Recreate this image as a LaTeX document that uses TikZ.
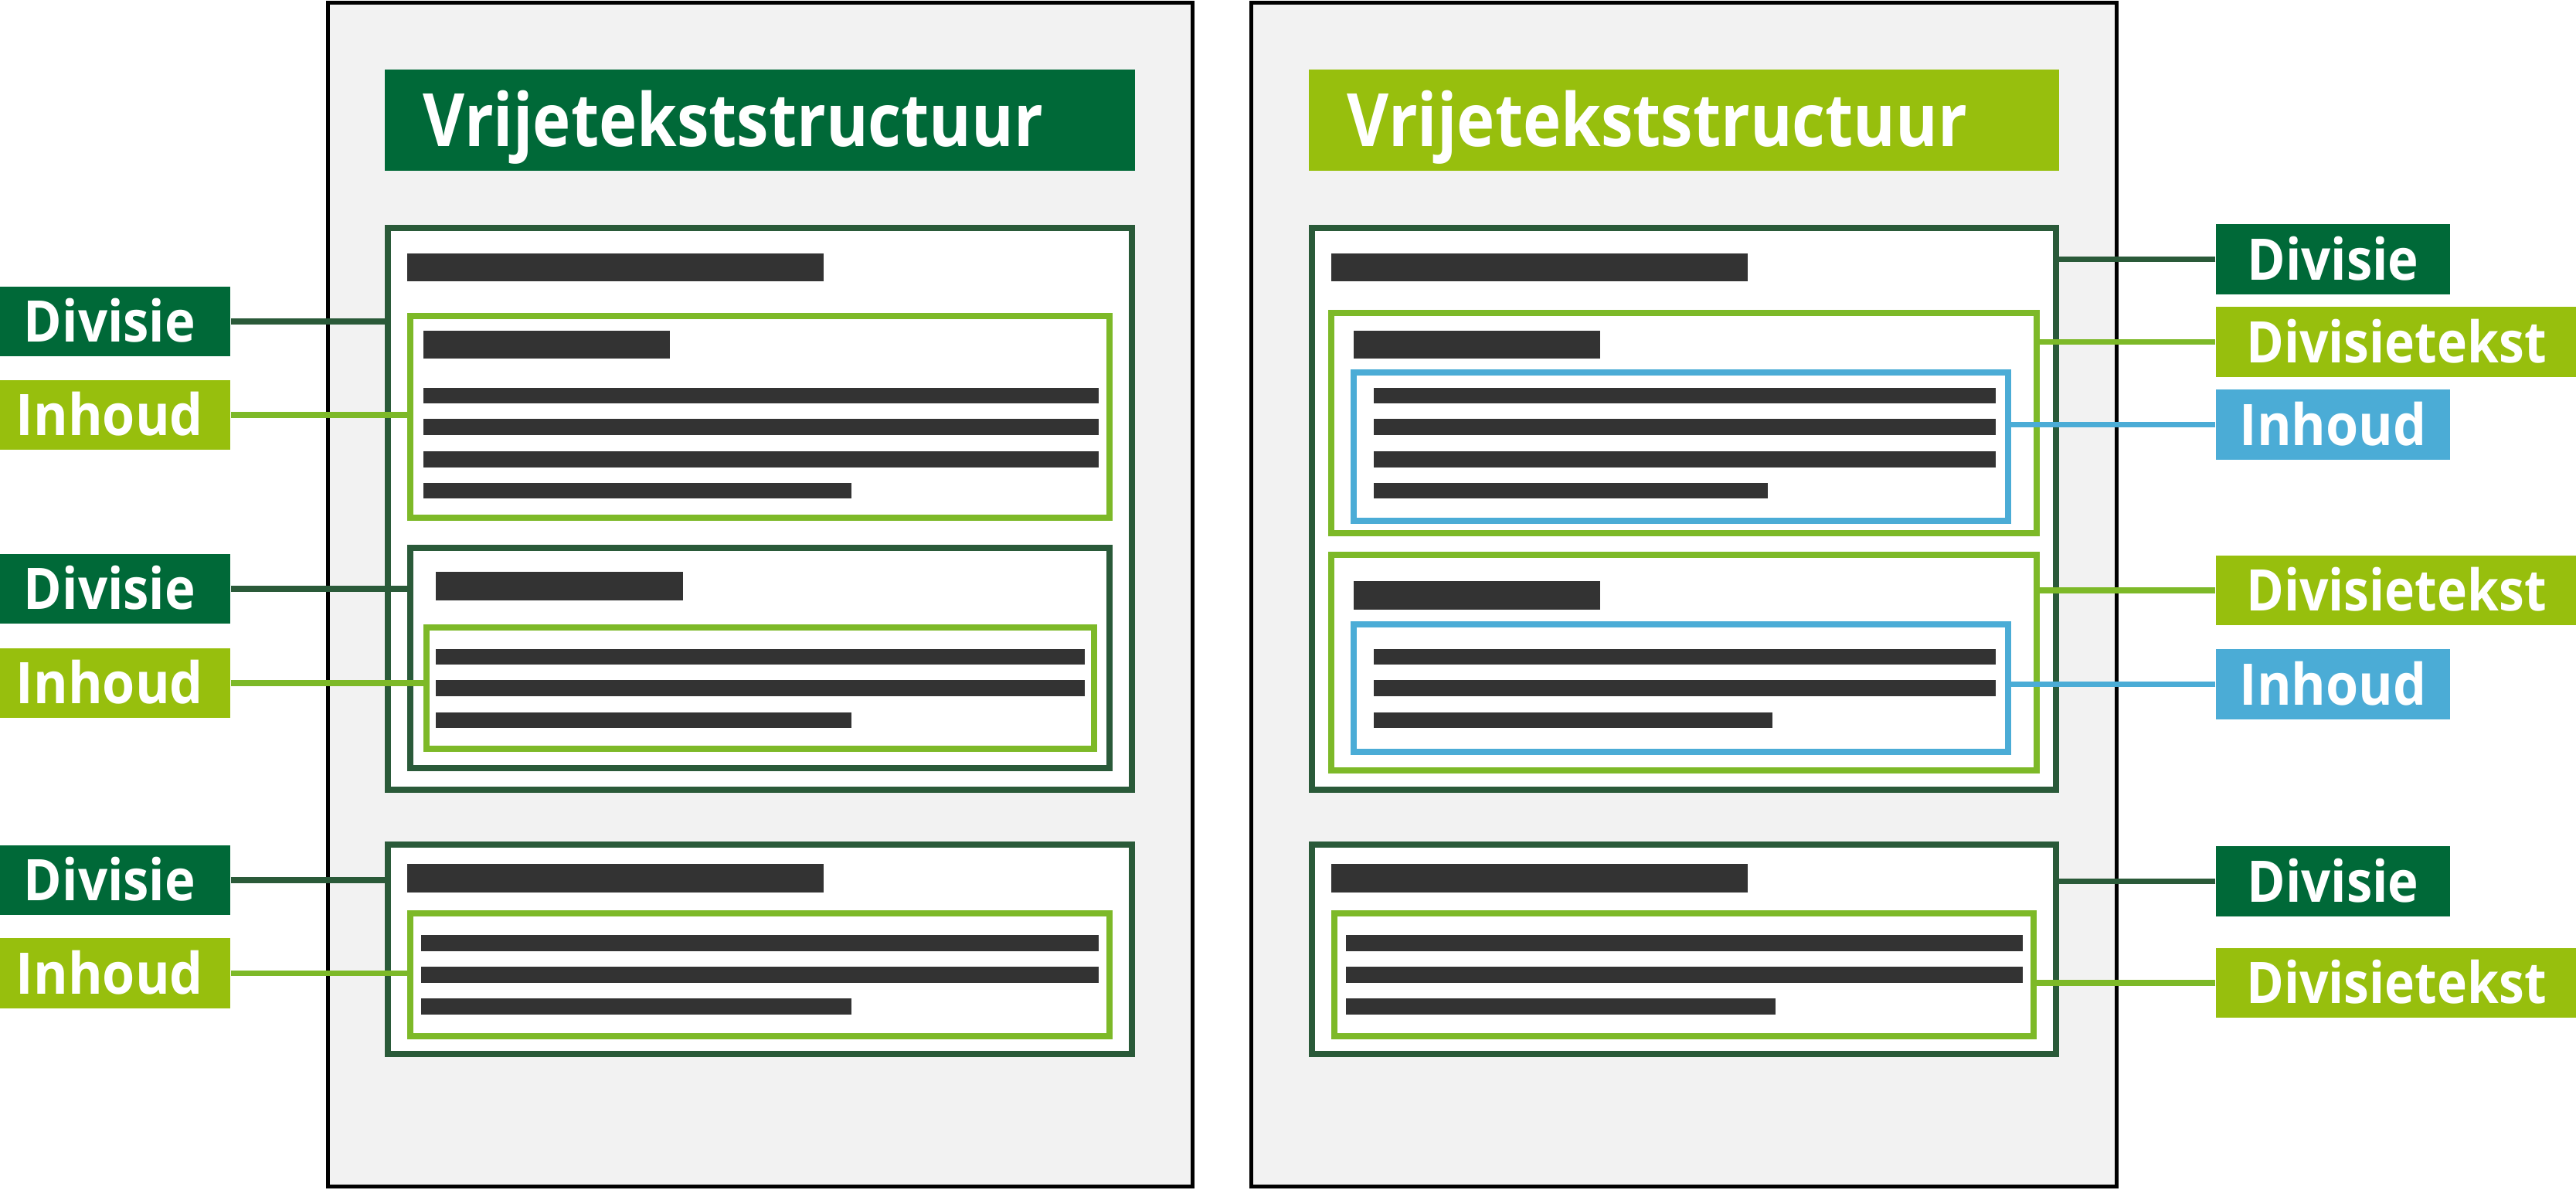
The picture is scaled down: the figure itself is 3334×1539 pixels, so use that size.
\documentclass[tikz,border=0pt]{standalone}
\usepackage{fontspec}
\setmainfont{Open Sans}
\usepackage{graphicx}
\definecolor{dgreen}{HTML}{006938}
\definecolor{divc}{HTML}{2A5A39}
\definecolor{grc}{HTML}{7DB928}
\definecolor{ygreen}{HTML}{97BF0D}
\definecolor{blc}{HTML}{4BACD6}
\definecolor{barc}{HTML}{333333}
\definecolor{panelc}{HTML}{F2F2F2}
\newcommand\mkbox[6]{\node[#1, minimum width={(#5-#3-8.3)*0.01cm}, minimum height={(#6-#4-8.3)*0.01cm}] (#2) at ({(#3+#5)/2},{(#4+#6)/2}) {};}
\newcommand\lbltxt[2]{\resizebox{#1}{\height}{\fontsize{21.1pt}{25pt}\selectfont\bfseries #2}}
\newcommand\ttltxt{\resizebox{8.02cm}{\height}{\fontsize{27.1pt}{32pt}\selectfont\bfseries Vrijetekststructuur}}
\begin{document}
\begin{tikzpicture}[x=0.01cm,y=-0.01cm,
  panel/.style={draw=black, fill=panelc, line width=0.05cm, inner sep=0pt},
  titlebox/.style={inner sep=0pt, minimum width=9.71cm, minimum height=1.31cm},
  divbox/.style={draw=divc, fill=white, line width=0.083cm, inner sep=0pt},
  grbox/.style={draw=grc, fill=white, line width=0.083cm, inner sep=0pt},
  blbox/.style={draw=blc, fill=white, line width=0.083cm, inner sep=0pt},
  txtbar/.style={fill=barc},
  connline/.style={line width=0.077cm},
  lbl/.style={inner sep=0pt, minimum height=0.9cm, text height=0.53cm, text depth=0pt, text=white},
  lblL/.style={lbl, minimum width=3.12cm},
  lblR/.style={lbl, minimum width=3.03cm},
  lblW/.style={lbl, minimum width=4.67cm}]
\useasboundingbox (0,0) rectangle (3334,1539);
\fill[white] (0,0) rectangle (3334,1539);
% panels
\node[panel, minimum width=11.18cm, minimum height=15.31cm] (P1) at (984,769.75) {};
\node[panel, minimum width=11.19cm, minimum height=15.31cm] (P2) at (2179.5,769.75) {};
% titles
\node[titlebox, fill=dgreen] (T1) at (983.5,155.5) {};
\node[titlebox, fill=ygreen] (T2) at (2179.5,155.5) {};
\node[anchor=base west, inner sep=0pt, text=white] (T1t) at (547,189) {\ttltxt};
\node[anchor=base west, inner sep=0pt, text=white] (T2t) at (1743,189) {\ttltxt};
% left panel boxes
\mkbox{divbox}{L1}{498}{291}{1469}{1026}
\mkbox{grbox}{G1}{527}{405}{1440}{674}
\mkbox{divbox}{L2}{527}{705}{1440}{998}
\mkbox{grbox}{G2}{548}{808}{1420}{973}
\mkbox{divbox}{L3}{498}{1089}{1469}{1368}
\mkbox{grbox}{G3}{527}{1178}{1440}{1345}
% right panel boxes
\mkbox{divbox}{R1}{1694}{291}{2665}{1026}
\mkbox{grbox}{D1}{1719}{401}{2640}{694}
\mkbox{blbox}{B1}{1748}{478}{2603}{678}
\mkbox{grbox}{D2}{1719}{714}{2640}{1001}
\mkbox{blbox}{B2}{1748}{804}{2603}{977}
\mkbox{divbox}{R3}{1694}{1089}{2665}{1368}
\mkbox{grbox}{D3}{1723}{1178}{2636}{1345}
% text bars left
\fill[txtbar] (527,328) rectangle (1066,364);
\fill[txtbar] (548,428) rectangle (867,464);
\fill[txtbar] (548,502) rectangle (1422,522);
\fill[txtbar] (548,542) rectangle (1422,563);
\fill[txtbar] (548,584) rectangle (1422,605);
\fill[txtbar] (548,625) rectangle (1102,645);
\fill[txtbar] (564,740) rectangle (884,777);
\fill[txtbar] (564,840) rectangle (1404,860);
\fill[txtbar] (564,880) rectangle (1404,901);
\fill[txtbar] (564,922) rectangle (1102,942);
\fill[txtbar] (527,1118) rectangle (1066,1155);
\fill[txtbar] (545,1210) rectangle (1422,1231);
\fill[txtbar] (545,1251) rectangle (1422,1272);
\fill[txtbar] (545,1292) rectangle (1102,1313);
% text bars right
\fill[txtbar] (1723,328) rectangle (2262,364);
\fill[txtbar] (1752,428) rectangle (2071,464);
\fill[txtbar] (1778,502) rectangle (2583,522);
\fill[txtbar] (1778,542) rectangle (2583,563);
\fill[txtbar] (1778,584) rectangle (2583,605);
\fill[txtbar] (1778,625) rectangle (2288,645);
\fill[txtbar] (1752,752) rectangle (2071,789);
\fill[txtbar] (1778,840) rectangle (2583,860);
\fill[txtbar] (1778,880) rectangle (2583,901);
\fill[txtbar] (1778,922) rectangle (2294,942);
\fill[txtbar] (1723,1118) rectangle (2262,1155);
\fill[txtbar] (1742,1210) rectangle (2618,1231);
\fill[txtbar] (1742,1251) rectangle (2618,1272);
\fill[txtbar] (1742,1292) rectangle (2298,1313);
% labels left
\node[lblL, fill=dgreen] (LD1) at (142,416) {\lbltxt{2.22cm}{Divisie}};
\node[lblL, fill=ygreen] (LI1) at (142,537) {\lbltxt{2.42cm}{Inhoud}};
\node[lblL, fill=dgreen] (LD2) at (142,762) {\lbltxt{2.22cm}{Divisie}};
\node[lblL, fill=ygreen] (LI2) at (142,884) {\lbltxt{2.42cm}{Inhoud}};
\node[lblL, fill=dgreen] (LD3) at (142,1139) {\lbltxt{2.22cm}{Divisie}};
\node[lblL, fill=ygreen] (LI3) at (142,1259.5) {\lbltxt{2.42cm}{Inhoud}};
% labels right
\node[lblR, fill=dgreen] (RD1) at (3019.5,335.5) {\lbltxt{2.22cm}{Divisie}};
\node[lblW, fill=ygreen] (RT1) at (3101.5,442.5) {\lbltxt{3.88cm}{Divisietekst}};
\node[lblR, fill=blc] (RI1) at (3019.5,549.5) {\lbltxt{2.42cm}{Inhoud}};
\node[lblW, fill=ygreen] (RT2) at (3101.5,764) {\lbltxt{3.88cm}{Divisietekst}};
\node[lblR, fill=blc] (RI2) at (3019.5,885.5) {\lbltxt{2.42cm}{Inhoud}};
\node[lblR, fill=dgreen] (RD3) at (3019.5,1140.5) {\lbltxt{2.22cm}{Divisie}};
\node[lblW, fill=ygreen] (RT3) at (3101.5,1272) {\lbltxt{3.88cm}{Divisietekst}};
% connectors
\draw[connline, divc] (LD1.east) -- (LD1.east -| L1.west);
\draw[connline, grc] (LI1.east) -- (LI1.east -| G1.west);
\draw[connline, divc] (LD2.east) -- (LD2.east -| L2.west);
\draw[connline, grc] (LI2.east) -- (LI2.east -| G2.west);
\draw[connline, divc] (LD3.east) -- (LD3.east -| L3.west);
\draw[connline, grc] (LI3.east) -- (LI3.east -| G3.west);
\draw[connline, divc] (RD1.west) -- (RD1.west -| R1.east);
\draw[connline, grc] (RT1.west) -- (RT1.west -| D1.east);
\draw[connline, blc] (RI1.west) -- (RI1.west -| B1.east);
\draw[connline, grc] (RT2.west) -- (RT2.west -| D2.east);
\draw[connline, blc] (RI2.west) -- (RI2.west -| B2.east);
\draw[connline, divc] (RD3.west) -- (RD3.west -| R3.east);
\draw[connline, grc] (RT3.west) -- (RT3.west -| D3.east);
\end{tikzpicture}
\end{document}
